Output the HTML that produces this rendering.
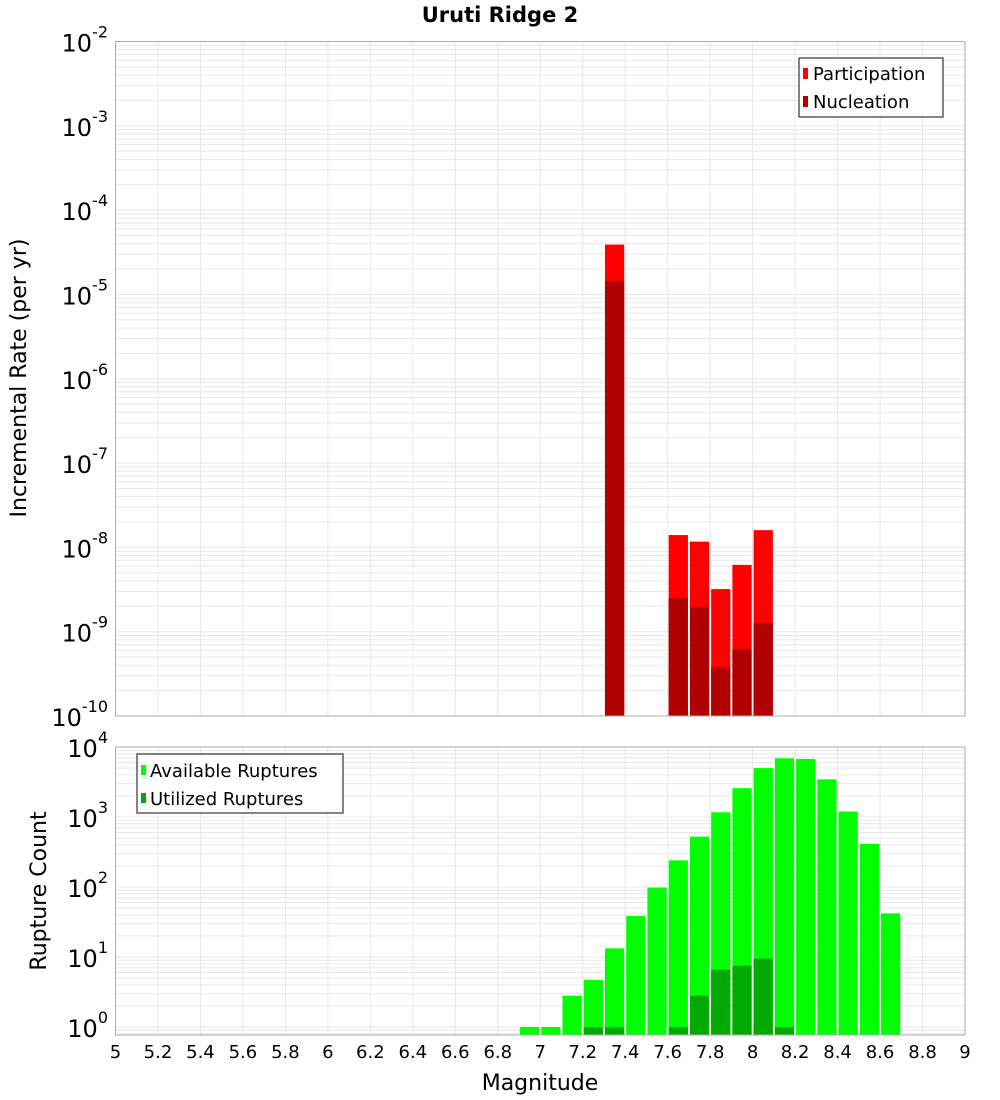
<!DOCTYPE html>
<html><head><meta charset="utf-8"><style>
html,body{margin:0;padding:0;background:#fff;}
svg{display:block;font-family:"DejaVu Sans","Liberation Sans",sans-serif;}
</style></head><body>
<svg id="chart" width="1000" height="1100" xmlns="http://www.w3.org/2000/svg">
<text x="500" y="22" text-anchor="middle" font-size="21" font-weight="bold">Uruti Ridge 2</text>
<text transform="translate(26,378) rotate(-90)" text-anchor="middle" font-size="22">Incremental Rate (per yr)</text>
<text transform="translate(46,891) rotate(-90)" text-anchor="middle" font-size="22">Rupture Count</text>
<text x="540" y="1090" text-anchor="middle" font-size="22">Magnitude</text>
<g id="top-grid"></g><g id="bot-grid"></g><g id="top-bars"></g><g id="bot-bars"></g><g id="axes"></g>
<g>
<rect x="799" y="58" width="144" height="59" fill="#fff" stroke="#333" stroke-width="1.2"/>
<rect x="803" y="68" width="5" height="11" fill="#ff0000"/>
<text x="813" y="80" font-size="18">Participation</text>
<rect x="803" y="96" width="5" height="11" fill="#b00000"/>
<text x="813" y="108" font-size="18">Nucleation</text>
</g>
<g>
<rect x="137" y="754" width="206" height="59" fill="#fff" stroke="#333" stroke-width="1.2"/>
<rect x="141" y="765" width="5" height="10" fill="#00ff00"/>
<text x="150" y="777" font-size="18">Available Ruptures</text>
<rect x="141" y="793" width="5" height="10" fill="#00aa00"/>
<text x="150" y="805" font-size="18">Utilized Ruptures</text>
</g>
</svg>
<script>
const topMags = [7.35, 7.65, 7.75, 7.85, 7.95, 8.05];
const participation = [3.9e-5, 1.4e-8, 1.17e-8, 3.2e-9, 6.2e-9, 1.6e-8];
const nucleation = [1.44e-5, 2.5e-9, 1.95e-9, 3.8e-10, 6.2e-10, 1.27e-9];
const botMags = [6.95,7.05,7.15,7.25,7.35,7.45,7.55,7.65,7.75,7.85,7.95,8.05,8.15,8.25,8.35,8.45,8.55,8.65];
const available = [1,1,2.8,4.7,13.3,38.5,98,240,524,1167,2580,5000,6900,6750,3450,1200,415,42];
const utilMags = [7.25,7.35,7.65,7.75,7.85,7.95,8.05,8.15];
const utilized = [1,1,1,2.8,6.6,7.5,9.5,1];
const xTicks = [5,5.2,5.4,5.6,5.8,6,6.2,6.4,6.6,6.8,7,7.2,7.4,7.6,7.8,8,8.2,8.4,8.6,8.8,9];
const topExps = [-2,-3,-4,-5,-6,-7,-8,-9,-10];
const botExps = [4,3,2,1,0];

const NS="http://www.w3.org/2000/svg";
const X0=115.5,X1=965;
const xs=m=>X0+(m-5)/4*(X1-X0);
const TT=41.5,TB=716,yT=v=>TT+(-2-Math.log10(v))*(TB-TT)/8;
const BT=747,BB=1035,yB=v=>BT+(4-Math.log10(v))*70;
const BW=xs(5.1)-xs(5);
function mk(tag,attrs,parent){const e=document.createElementNS(NS,tag);for(const k in attrs)e.setAttribute(k,attrs[k]);parent.appendChild(e);return e;}
const tg=document.getElementById('top-grid'),bg=document.getElementById('bot-grid');
const tb=document.getElementById('top-bars'),bb=document.getElementById('bot-bars'),ax=document.getElementById('axes');
// grids
for(const t of xTicks){
 const l1=mk('line',{x1:xs(t),x2:xs(t),y1:TT,y2:TB,stroke:'#e8e8e8'},tg);
 
 
 const l2=mk('line',{x1:xs(t),x2:xs(t),y1:BT,y2:BB,stroke:'#e8e8e8'},bg);
 
 
}
for(let e=-10;e<-2;e++)for(let k=1;k<10;k++){
 const y=yT(k*Math.pow(10,e));
 const l=mk('line',{x1:X0,x2:X1,y1:y,y2:y,stroke:'#e8e8e8'},tg);
 
 
}
for(let e=-1;e<4;e++)for(let k=1;k<10;k++){
 const y=yB(k*Math.pow(10,e)); if(y>BB||y<BT)continue;
 const l=mk('line',{x1:X0,x2:X1,y1:y,y2:y,stroke:'#e8e8e8'},bg);
 
 
}
// top bars
topMags.forEach((m,i)=>{
 const x=xs(m)-BW/2+1,w=BW-2;
 const p=mk('rect',{x:x,y:yT(participation[i]),width:w,height:TB-yT(participation[i]),fill:'#ff0000'},tb);
 
 
 const n=mk('rect',{x:x,y:yT(nucleation[i]),width:w,height:TB-yT(nucleation[i]),fill:'#b00000'},tb);
 
 
});
botMags.forEach((m,i)=>{
 const x=xs(m)-BW/2+1,w=BW-2;
 const r=mk('rect',{x:x,y:yB(available[i]),width:w,height:BB-yB(available[i]),fill:'#00ff00'},bb);
 
 
});
utilMags.forEach((m,i)=>{
 const x=xs(m)-BW/2+1,w=BW-2;
 const r=mk('rect',{x:x,y:yB(utilized[i]),width:w,height:BB-yB(utilized[i]),fill:'#00aa00'},bb);
 
 
});
// frames
const f1=mk('rect',{x:X0,y:TT,width:X1-X0,height:TB-TT,fill:'none',stroke:'#aaa'},ax);


const f2=mk('rect',{x:X0,y:BT,width:X1-X0,height:BB-BT,fill:'none',stroke:'#aaa'},ax);


// tick labels
function expLabel(y,e,parent,name){
 const t=mk('text',{x:108,y:y+10,'text-anchor':'end','font-size':24},parent);
 
 
 const s1=document.createElementNS(NS,'tspan');s1.textContent='10';t.appendChild(s1);
 const s2=document.createElementNS(NS,'tspan');s2.setAttribute('dy','-14');s2.setAttribute('font-size','16');s2.textContent=String(e);t.appendChild(s2);
}
topExps.forEach(e=>expLabel(yT(Math.pow(10,e)),e,ax,'top-y-tick-label'));
botExps.forEach(e=>expLabel(yB(Math.pow(10,e)),e,ax,'bottom-y-tick-label'));
xTicks.forEach(t=>{
 const l=mk('text',{x:xs(t),y:1058,'text-anchor':'middle','font-size':18},ax);
 
 
 l.textContent=String(t);
});
</script>
</body></html>
